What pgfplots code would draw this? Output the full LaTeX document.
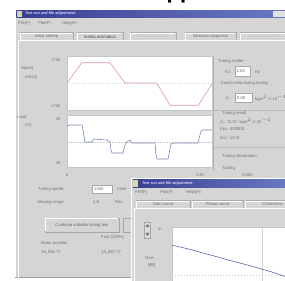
\documentclass[border=0pt]{standalone}
\usepackage{pgfplots}
\pgfplotsset{compat=1.18}
\usepackage{fontspec}
\setmainfont{Liberation Sans}
\definecolor{win}{HTML}{D5D5D5}
\definecolor{txt}{HTML}{707070}
\definecolor{tbl}{HTML}{3A3E92}
\definecolor{tbr}{HTML}{6A7AC4}
\definecolor{spd}{HTML}{DC9AA0}
\definecolor{trq}{HTML}{7C8ABA}
\definecolor{gline}{HTML}{5868AC}
\tikzset{t/.style={anchor=west, inner sep=0pt, font=\fontsize{4.2}{5}\selectfont, text=txt},
  tc/.style={inner sep=0pt, font=\fontsize{4.2}{5}\selectfont, text=txt},
  box/.style={fill=white, draw=gray!70, line width=0.4pt}}
\pgfplotsset{uiaxis/.style={scale only axis, axis background/.style={fill=white},
  axis line style={draw=gray!45, line width=0.4pt}, major tick length=0pt,
  tick label style={font=\fontsize{4}{5}\selectfont, text=txt},
  yticklabel style={xshift=-3pt}, xticklabel style={yshift=-3pt}}}
\begin{document}
\begin{tikzpicture}
\path[use as bounding box] (0,0) rectangle (285pt,281pt);
\clip (0,0) rectangle (285pt,281pt);
\fill[white] (0,0) rectangle (285pt,281pt);
\begin{scope}[x=1pt,y=-1pt,yshift=281pt]
\node[anchor=base west, inner sep=0pt, font=\bfseries\fontsize{22}{24}\selectfont] at (166.5,-1.5) {pp};
% main window
\fill[win] (15,9) rectangle (290,278);
\draw[white, line width=0.6pt] (15.5,278) -- (15.5,9.5) -- (290,9.5);
\draw[gray!75, line width=0.6pt] (15,277.5) -- (290,277.5);
\shade[left color=tbl, right color=tbr] (16.5,10.3) rectangle (290,17.5);
\fill[yellow!40!gray!60] (16.8,10.8) rectangle (22,16.8);
\node[t, text=white!85!blue, font=\bfseries\fontsize{3.8}{5}\selectfont] at (25,14) {Test run and file adjustment};
\fill[win!70!white] (273,11) rectangle (285,16.8);
% menu
\node[t] at (18,23.5) {File(F)};
\node[t] at (38,23.5) {Plot(P)};
\node[t] at (62,23.5) {Help(H)};
% tab panel
\draw[white, line width=0.6pt] (18,278) -- (18,40.5) -- (290,40.5);
\foreach \a/\b/\lab/\st in {20/73/Initial setting/txt, 77/123/Inertia estimation/black!70, 130/176/Friction setting/gray!45, 185/236/Vibration diagnosis/txt, 240/290/Gain adjustment/gray!45}{
  \draw[gray!65, line width=0.5pt, fill=win] (\a,40.5) -- (\a,32.5) -- (\b,32.5) -- (\b,40.5);
  \draw[white, line width=0.4pt] (\a+0.6,40) -- (\a+0.6,33.1) -- (\b-0.6,33.1);
  \node[tc, text=\st] at ({(\a+\b)/2},36.6) {\lab};
}
% left labels
\node[t] at (21,68) {Speed};
\node[t] at (25,77) {(r/min)};
\node[t] at (17,117) {Load};
\node[t] at (25,125.5) {(\%)};
% right panel
\draw[gray!60, line width=0.4pt] (213,56) -- (213,170);
\node[t] at (218,61.5) {Tuning model};
\node[t] at (225,72) {K=};
\draw[box] (235,66.5) rectangle (250,76.5);
\node[t, text=black!60] at (236.5,71.5) {1.00};
\node[t] at (255,72) {Hz};
\node[t] at (221,83.5) {Inertia ratio during tuning};
\node[t] at (225,98) {J=};
\draw[box] (235,93) rectangle (252,102.5);
\node[t, text=black!60] at (237,97.8) {0.00};
\node[t] at (255,98) {kgm$^2$$\times$10$^{-4}$};
\draw[gray!55, line width=0.4pt] (214,110.5) -- (290,110.5);
\node[t] at (222,113.5) {Tuning result};
\node[t] at (220,121) {J=\ \ 11.57\ \ kgm$^2\times$10$^{-4}$};
\node[t] at (220,129.5) {Kp=\ \ 400000};
\node[t] at (220,138.5) {Kv=\ \ 1378};
\draw[gray!55, line width=0.4pt] (214,147.5) -- (290,147.5);
\node[t] at (222,156) {Tuning information};
\node[t] at (222,168) {Tuning};
\node[t] at (242,175.5) {0.000};
% lower left
\node[t] at (38,189) {Tuning speed};
\draw[box] (92,185) rectangle (112,193);
\node[t, text=black!55] at (94,189) {1000};
\node[t] at (117,189) {r/min};
\node[t] at (38,202) {Moving range};
\node[t] at (93,202) {1.0};
\node[t] at (115,202) {Rev};
\draw[gray!70, fill=win, line width=0.5pt] (45,218) rectangle (119,232);
\draw[white, line width=0.5pt] (45.5,231.5) -- (45.5,218.5) -- (118.5,218.5);
\node[tc, text=black!60] at (82,225) {Continue suitable tuning test};
\draw[gray!70, fill=win, line width=0.5pt] (123,218) rectangle (140,232);
\node[t] at (101,237.5) {Fast (100\%)};
\node[t] at (41,243) {Motor position};
\node[t] at (41,252) {18\_991.77};
\node[t] at (101,252) {18\_867.77};
% second window
\fill[win] (131,178) rectangle (290,285);
\draw[white, line width=0.6pt] (131.5,285) -- (131.5,178.5) -- (290,178.5);
\shade[left color=tbl, right color=tbr] (133,180) rectangle (290,187.3);
\fill[yellow!40!gray!55] (133.3,180.4) rectangle (138.5,186.8);
\node[t, text=white!85!blue, font=\bfseries\fontsize{3.8}{5}\selectfont] at (142,183.7) {Test run and file adjustment};
\node[t] at (135,192.5) {File(F)};
\node[t] at (160,192.5) {Plot(P)};
\node[t] at (186,192.5) {Help(H)};
\draw[white, line width=0.5pt] (134,290) -- (134,208.5) -- (290,208.5);
\foreach \a/\b/\lab in {136/190/Gain curve, 192/243/Phase curve, 245/300/Coherence}{
  \draw[gray!65, line width=0.5pt, fill=win] (\a,208.5) -- (\a,200.5) -- (\b,200.5) -- (\b,208.5);
  \draw[white, line width=0.4pt] (\a+0.6,208) -- (\a+0.6,201.1) -- (\b-0.6,201.1);
  \node[tc] at ({(\a+\b)/2},204.5) {\lab};
}
\draw[gray!70, fill=win!85!white, line width=0.4pt] (144.5,222) rectangle (150.5,238);
\fill[txt] (145.5,227) -- (149.5,227) -- (147.5,224) -- cycle;
\fill[txt] (145.5,233) -- (149.5,233) -- (147.5,236) -- cycle;
\node[t] at (158,229.5) {m};
\node[t] at (145,258) {Gain};
\node[t] at (147.5,265.5) {(dB)};
\end{scope}
% main top plot
\begin{axis}[uiaxis, at={(67pt,171pt)}, anchor=south west, width=145pt, height=54pt,
  xmin=0, xmax=145, ymin=-2000, ymax=2000, xtick=\empty, ytick={-1700,1700}, yticklabels={-1700,1700}]
\addplot[gray!40, line width=0.4pt, dash pattern=on 1.5pt off 1.5pt] coordinates {(0,0) (145,0)};
\addplot[spd, line width=0.6pt] coordinates {(0,0) (14.7,1500) (43,1500) (58,0) (89.7,0) (103,-1650) (131.3,-1650) (145.7,0)};
\end{axis}
% main bottom plot
\begin{axis}[uiaxis, at={(67pt,114pt)}, anchor=south west, width=145pt, height=52pt,
  xmin=0, xmax=145, ymin=-35, ymax=35, ytick={-30,30}, yticklabels={-30,30},
  xtick={0,133}, xticklabels={0,3.90}]
\addplot[gray!40, line width=0.4pt, dash pattern=on 1.5pt off 1.5pt] coordinates {(0,-1) (145,-1)};
\addplot[trq, line width=0.6pt] coordinates {(0,20.2) (3,21.5) (15,21.5) (16,14.8) (18,-1.3) (25,-1.3) (27,2.7) (40,1.3) (43,-1.3) (44,-12.1) (45,-16.1) (56,-16.1) (58,-5.4) (60,-1.3) (63,1.3) (65,-2.7) (88,-2.7) (89,-18.8) (90,-24.2) (101,-24.2) (104,-4) (108,-2.7) (131,-2.7) (134,13.5) (136,14.8) (145,14.8)};
\end{axis}
% second window plot
\begin{axis}[uiaxis, at={(172pt,54pt)}, anchor=north west, width=130pt, height=70pt,
  xmin=0, xmax=130, ymin=0, ymax=70, xtick=\empty, ytick=\empty]
\addplot[gray!35, line width=0.5pt] coordinates {(90,0) (90,70)};
\addplot[gray!45, line width=0.4pt, dash pattern=on 1.5pt off 1.5pt] coordinates {(0,21.5) (130,21.5)};
\addplot[gline, line width=0.6pt] coordinates {(0,52) (10,49.5) (20,47.2) (30,44.2) (40,41.6) (50,38.8) (60,36) (70,33.4) (80,30.8) (90,27.8) (100,25) (113,20.5) (130,17)};
\end{axis}
\end{tikzpicture}
\end{document}
